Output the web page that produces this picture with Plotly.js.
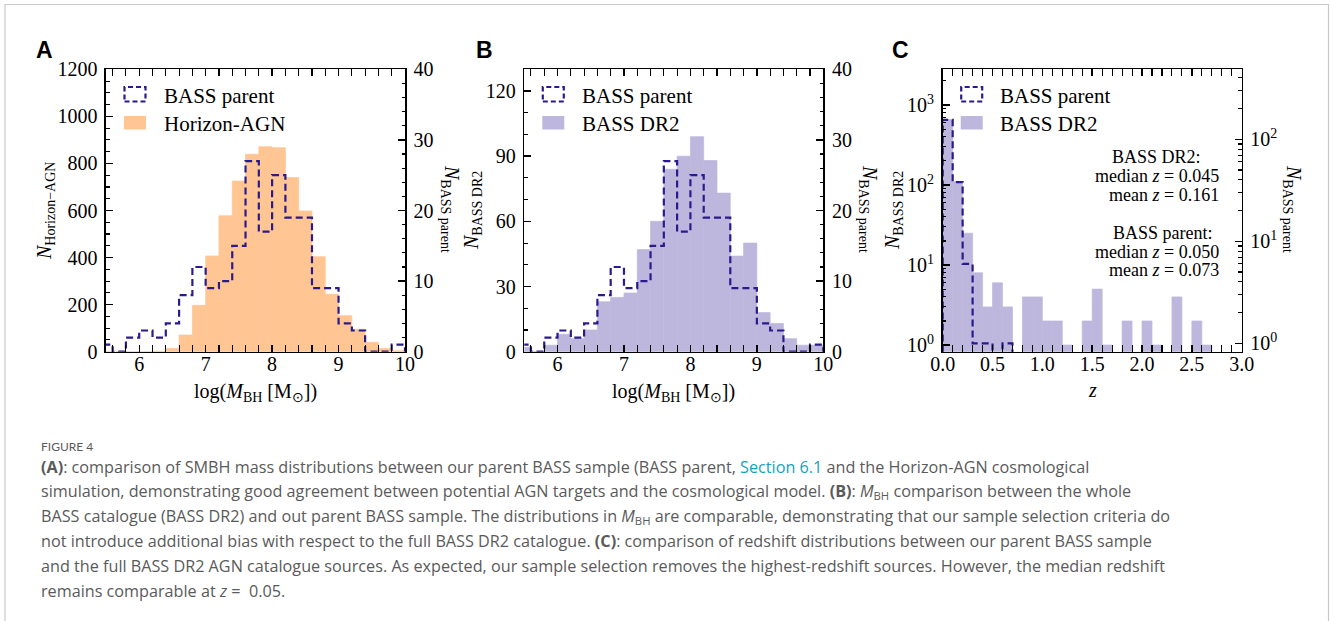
<!DOCTYPE html>
<html><head><meta charset="utf-8">
<script src="https://cdn.plot.ly/plotly-3.0.1.min.js"></script>
<style>html,body{margin:0;padding:0;background:#fff;overflow:hidden}#chart{width:1332px;height:621px}</style>
</head><body><div id="chart"></div>
<script>
// ---------------- DATA ----------------
// log(M_BH) histograms: bins of width 0.2 starting at 5.4 (23 bins up to 10.0)
const massBinStart = 5.4;
const massBinWidth = 0.2;
const horizonAGN     = [0,0,0,0,2,14,71,197,407,578,725,839,871,867,740,598,404,244,153,95,40,14,4];
const bassDR2Mass    = [2,0,3,8,6,10,23,25,27,47,60,84,90,99,88,73,44,50,18,13,6,3,3];
const bassParentMass = [1,0,2,3,2,4,8,12,9,10,15,27,17,25,19,19,9,9,4,3,0,0,1];
// redshift histograms: bins of width 0.1 from 0 to 3.0 (30 bins)
const zBinStart = 0.0;
const zBinWidth = 0.1;
const bassDR2Z    = [660,110,25,8,3,6,3,0,4,4,2,2,1,0,2,5,1,0,2,0,2,1,0,4,0,2,1,0,0,0];
const bassParentZ = [155,38,6,1,1,0,1,0,0,0,0,0,0,0,0,0,0,0,0,0,0,0,0,0,0,0,0,0,0,0];
// tick labels
const logTickVals = [1,10,100,1000];
const logTickText = ['10<sup>0</sup>','10<sup>1</sup>','10<sup>2</sup>','10<sup>3</sup>'];
const statsLines = [
  ['BASS DR2:', 'median <i>z</i> = 0.045', 'mean <i>z</i> = 0.161'],
  ['BASS parent:', 'median <i>z</i> = 0.050', 'mean <i>z</i> = 0.073']
];

// ---------------- STYLE ----------------
const W = 1332, H = 621;
const px = x => x / W, py = y => 1 - y / H;
const ORANGE = '#FFC593', LAVENDER = '#BEB7DD', NAVY = '#2a1b8c';
const SERIF = 'Liberation Serif, Times New Roman, serif';
const tickFont = {family: SERIF, size: 20, color: '#000'};
const panels = [ // pixel boxes of each panel
  {l: 106, r: 405}, {l: 524.3, r: 823.3}, {l: 942.7, r: 1241.7}
];
const boxTop = 69.3, boxBottom = 351.7;

function centers(start, w, n){ const a=[]; for(let i=0;i<n;i++) a.push(+(start+(i+0.5)*w).toFixed(4)); return a; }
function stepXY(start, w, counts, floor){
  const x=[start], y=[floor];
  counts.forEach((c,i)=>{ const v = c>0 ? c : floor; x.push(start+i*w, start+(i+1)*w); y.push(v, v); });
  x.push(start+counts.length*w); y.push(floor);
  return {x, y};
}

const stepA = stepXY(massBinStart, massBinWidth, bassParentMass, 0);
const stepC = stepXY(zBinStart, zBinWidth, bassParentZ, 1e-3);
const dashLine = {color: NAVY, width: 2.2, dash: '7px,4px'};

const traces = [
  {type:'bar', x: centers(massBinStart, massBinWidth, horizonAGN.length), y: horizonAGN, width: massBinWidth,
   marker:{color: ORANGE, line:{width:0.7, color: ORANGE}}, xaxis:'x', yaxis:'y', name:'Horizon-AGN', showlegend:false},
  {type:'scatter', mode:'lines', x: stepA.x, y: stepA.y, line: dashLine, xaxis:'x', yaxis:'y2', name:'BASS parent', showlegend:false},
  {type:'bar', x: centers(massBinStart, massBinWidth, bassDR2Mass.length), y: bassDR2Mass, width: massBinWidth,
   marker:{color: LAVENDER, line:{width:0.7, color: LAVENDER}}, xaxis:'x2', yaxis:'y3', name:'BASS DR2', showlegend:false},
  {type:'scatter', mode:'lines', x: stepA.x, y: stepA.y, line: dashLine, xaxis:'x2', yaxis:'y4', name:'BASS parent', showlegend:false},
  {type:'bar', x: centers(zBinStart, zBinWidth, bassDR2Z.length), y: bassDR2Z, width: zBinWidth,
   marker:{color: LAVENDER, line:{width:0.7, color: LAVENDER}}, xaxis:'x3', yaxis:'y5', name:'BASS DR2', showlegend:false},
  {type:'scatter', mode:'lines', x: stepC.x, y: stepC.y, line: dashLine, xaxis:'x3', yaxis:'y6', name:'BASS parent', showlegend:false}
];

const common = {showgrid:false, zeroline:false, showline:true, linecolor:'#000', linewidth:1.6,
  ticks:'inside', ticklen:7, tickwidth:1.4, tickcolor:'#000', tickfont: tickFont};
function xax(p, anchor, range, dtick, minor, extra){
  return Object.assign({}, common, {domain:[px(p.l), px(p.r)], anchor, range, dtick, tick0:0, mirror:'allticks',
    ticklabelstandoff: -6,
    minor:{dtick: minor, tick0:0, ticks:'inside', ticklen:3.5, tickwidth:1.1, tickcolor:'#000'}}, extra||{});
}
function yax(anchor, range, dtick, minor, side, overlay, extra){
  const o = Object.assign({}, common, {anchor, range, dtick, tick0:0, side, mirror:false,
    ticklabelstandoff: 3,
    minor:{dtick: minor, tick0:0, ticks:'inside', ticklen:3.5, tickwidth:1.1, tickcolor:'#000'}}, extra||{});
  if (overlay) o.overlaying = overlay; else o.domain = [py(boxBottom), py(boxTop)];
  return o;
}
function logMinor(maxDec){ const v=[]; for(let d=0; d<=maxDec; d++) for(let k=2;k<=9;k++) v.push(k*Math.pow(10,d)); return v; }

const layout = {
  width: W, height: H, margin:{l:0,r:0,t:0,b:0}, paper_bgcolor:'#fff', plot_bgcolor:'rgba(0,0,0,0)',
  showlegend:false, hovermode:false,
  xaxis:  xax(panels[0], 'y',  [5.5,10], 1, 0.2),
  yaxis:  yax('x', [0,1200], 200, 50, 'left'),
  yaxis2: yax('x', [0,40], 10, 2, 'right', 'y'),
  xaxis2: xax(panels[1], 'y3', [5.5,10], 1, 0.2),
  yaxis3: yax('x2', [0,130], 30, 10, 'left'),
  yaxis4: yax('x2', [0,40], 10, 2, 'right', 'y3'),
  xaxis3: xax(panels[2], 'y5', [0,3], 0.5, 0.1, {tickformat:'.1f'}),
  yaxis5: yax('x3', [-0.083,3.446], null, null, 'left', null,
     {type:'log', tickvals: logTickVals, ticktext: logTickText, minor:{tickvals: logMinor(3), ticks:'inside', ticklen:3.5, tickwidth:1.1, tickcolor:'#000'}}),
  yaxis6: yax('x3', [-0.082,2.686], null, null, 'right', 'y5',
     {type:'log', tickvals: logTickVals.slice(0,3), ticktext: logTickText.slice(0,3), minor:{tickvals: logMinor(2), ticks:'inside', ticklen:3.5, tickwidth:1.1, tickcolor:'#000'}}),
  annotations: [], shapes: []
};

const ann = (text, x, y, o) => layout.annotations.push(Object.assign({text, x:px(x), y:py(y), xref:'paper', yref:'paper',
  showarrow:false, xanchor:'center', yanchor:'middle', font:{family:SERIF, size:20, color:'#000'}}, o||{}));

// panel letters
['A','B','C'].forEach((L,i)=> ann('<b>'+L+'</b>', [34,474,890][i], 49.5,
  {xanchor:'left', font:{family:'Liberation Sans, Arial, sans-serif', size:23, color:'#000'}}));

// axis titles
const xTitle = 'log(<i>M</i><sub>BH</sub> [M<sub>⊙</sub>])';
ann(xTitle, (panels[0].l+panels[0].r)/2, 392);
ann(xTitle, (panels[1].l+panels[1].r)/2, 392);
ann('<i>z</i>', (panels[2].l+panels[2].r)/2, 390);
ann('<i>N</i><sub>Horizon−AGN</sub>', 46, 211, {textangle:-90});
ann('<i>N</i><sub>BASS parent</sub>', 450, 209, {textangle:90});
ann('<i>N</i><sub>BASS DR2</sub>', 473, 211, {textangle:-90});
ann('<i>N</i><sub>BASS parent</sub>', 868, 209, {textangle:90});
ann('<i>N</i><sub>BASS DR2</sub>', 894, 211, {textangle:-90});
ann('<i>N</i><sub>BASS parent</sub>', 1292, 209, {textangle:90});

// legends (manual, matplotlib-like)
const legendNames = [['BASS parent','Horizon-AGN'],['BASS parent','BASS DR2'],['BASS parent','BASS DR2']];
const legendFills = [ORANGE, LAVENDER, LAVENDER];
const legFont = {family:SERIF, size:21, color:'#000'};
panels.forEach((p,i)=>{
  layout.shapes.push({type:'rect', xref:'paper', yref:'paper', x0:px(p.l+18.5), x1:px(p.l+39.5), y0:py(101.5), y1:py(87),
    line:{color:NAVY, width:2.2, dash:'5px,3px'}, fillcolor:'rgba(0,0,0,0)'});
  layout.shapes.push({type:'rect', xref:'paper', yref:'paper', x0:px(p.l+18), x1:px(p.l+40), y0:py(129.5), y1:py(116),
    line:{width:0}, fillcolor:legendFills[i]});
  ann(legendNames[i][0], p.l+55.5, 96, {xanchor:'left', font:legFont});
  ann(legendNames[i][1], p.l+55.5, 123.5, {xanchor:'left', font:legFont});
});

// stats text in panel C
const statFont = {family:SERIF, size:18, color:'#000'};
ann(statsLines[0][0], 1203, 157, {xanchor:'right', font:statFont});
ann(statsLines[0][1], 1221, 176, {xanchor:'right', font:statFont});
ann(statsLines[0][2], 1221, 194.5, {xanchor:'right', font:statFont});
ann(statsLines[1][0], 1215, 233, {xanchor:'right', font:statFont});
ann(statsLines[1][1], 1221, 251.5, {xanchor:'right', font:statFont});
ann(statsLines[1][2], 1221, 270, {xanchor:'right', font:statFont});

// caption
const CAPFAM = 'Open Sans, Lato, sans-serif';
const capFont = {family: CAPFAM, size:16.2, color:'#5a5a5a'};
const teal = '#14a2bd';
ann('FIGURE 4', 39, 446, {xanchor:'left', font:{family:'Liberation Sans Narrow, Lato, sans-serif', size:12, color:'#5a5a5a'}});
const capLines = [
  '<b>(A)</b>: comparison of SMBH mass distributions between our parent BASS sample (BASS parent, <span style="color:'+teal+'">Section 6.1</span> and the Horizon-AGN cosmological',
  'simulation, demonstrating good agreement between potential AGN targets and the cosmological model. <b>(B)</b>: <i>M</i><sub>BH</sub> comparison between the whole',
  'BASS catalogue (BASS DR2) and out parent BASS sample. The distributions in <i>M</i><sub>BH</sub> are comparable, demonstrating that our sample selection criteria do',
  'not introduce additional bias with respect to the full BASS DR2 catalogue. <b>(C)</b>: comparison of redshift distributions between our parent BASS sample',
  'and the full BASS DR2 AGN catalogue sources. As expected, our sample selection removes the highest-redshift sources. However, the median redshift',
  'remains comparable at <i>z</i> =  0.05.'
];
capLines.forEach((t,i)=> ann(t, 39, 467 + i*24.8, {xanchor:'left', font:capFont}));

// outer frame
layout.shapes.push({type:'rect', xref:'paper', yref:'paper', x0:px(5), x1:px(1328.5), y0:-0.2, y1:py(4.5),
  line:{color:'#c8c8c8', width:1.2}, fillcolor:'rgba(0,0,0,0)', layer:'below'});

Plotly.newPlot('chart', traces, layout, {staticPlot:true, displayModeBar:false});
</script></body></html>
